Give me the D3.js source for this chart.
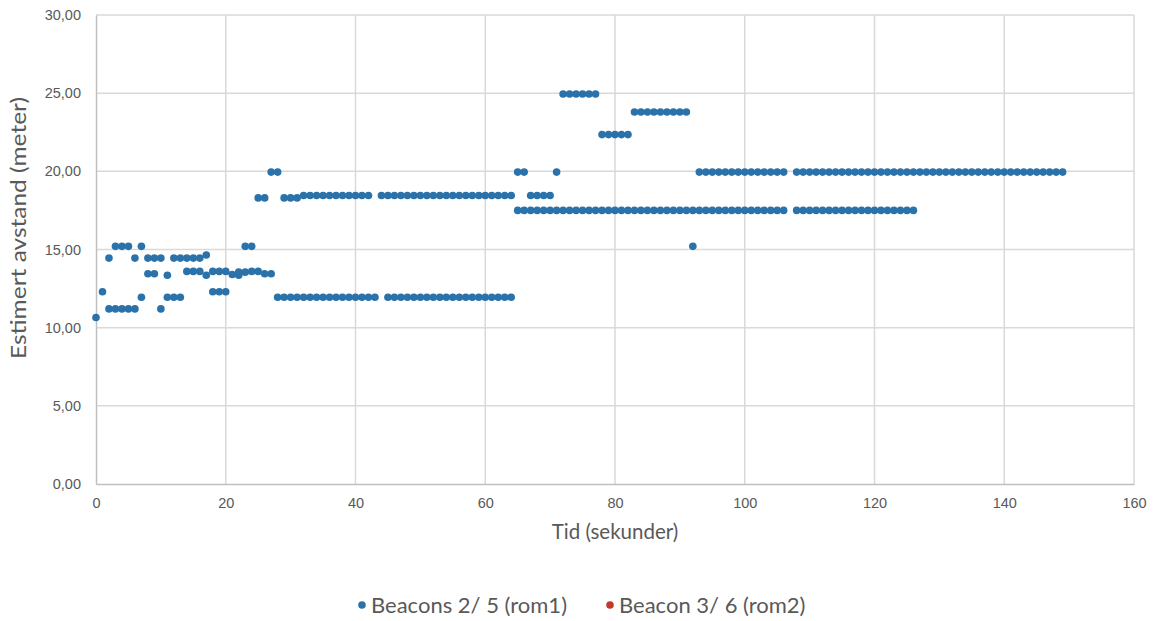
<!DOCTYPE html>
<html>
<head>
<meta charset="utf-8">
<script src="https://cdn.jsdelivr.net/npm/d3@7"></script>
<style>
  body { margin: 0; background: #fff; }
  svg { display: block; }
</style>
</head>
<body>
<svg id="chart" width="1157" height="621"></svg>
<script>
// Tid (s) og estimert avstand (m), lest av figuren
const beacons25 = [
  [0, 10.65], [1, 12.3],
  [2, 14.45], [2, 11.2], [3, 15.2], [3, 11.2], [4, 15.2], [4, 11.2],
  [5, 15.2], [5, 11.2], [6, 14.45], [6, 11.2], [7, 15.2], [7, 11.95],
  [8, 14.45], [8, 13.45], [9, 14.45], [9, 13.45], [10, 14.45], [10, 11.2],
  [11, 13.35], [11, 11.95], [12, 14.45], [12, 11.95], [13, 14.45], [13, 11.95],
  [14, 14.45], [14, 13.6], [15, 14.45], [15, 13.6], [16, 14.45], [16, 13.6],
  [17, 14.65], [17, 13.35], [18, 13.6], [18, 12.3], [19, 13.6], [19, 12.3],
  [20, 13.6], [20, 12.3], [21, 13.4], [22, 13.35], [22, 13.55],
  [23, 15.2], [23, 13.55], [24, 15.2], [24, 13.6], [25, 18.3], [25, 13.6],
  [26, 18.3], [26, 13.45], [27, 19.95], [27, 13.45], [28, 19.95], [28, 11.95],
  [29, 18.3], [29, 11.95], [30, 18.3], [30, 11.95], [31, 18.3], [31, 11.95],
  [32, 18.45], [32, 11.95], [33, 18.45], [33, 11.95], [34, 18.45], [34, 11.95],
  [35, 18.45], [35, 11.95], [36, 18.45], [36, 11.95], [37, 18.45], [37, 11.95],
  [38, 18.45], [38, 11.95], [39, 18.45], [39, 11.95], [40, 18.45], [40, 11.95],
  [41, 18.45], [41, 11.95], [42, 18.45], [42, 11.95], [43, 11.95], [44, 18.45],
  [45, 18.45], [45, 11.95], [46, 18.45], [46, 11.95], [47, 18.45], [47, 11.95],
  [48, 18.45], [48, 11.95], [49, 18.45], [49, 11.95], [50, 18.45], [50, 11.95],
  [51, 18.45], [51, 11.95], [52, 18.45], [52, 11.95], [53, 18.45], [53, 11.95],
  [54, 18.45], [54, 11.95], [55, 18.45], [55, 11.95], [56, 18.45], [56, 11.95],
  [57, 18.45], [57, 11.95], [58, 18.45], [58, 11.95], [59, 18.45], [59, 11.95],
  [60, 18.45], [60, 11.95], [61, 18.45], [61, 11.95], [62, 18.45], [62, 11.95],
  [63, 18.45], [63, 11.95], [64, 18.45], [64, 11.95],
  [65, 19.95], [65, 17.5], [66, 19.95], [66, 17.5],
  [67, 18.45], [67, 17.5], [68, 18.45], [68, 17.5], [69, 18.45], [69, 17.5],
  [70, 18.45], [70, 17.5], [71, 19.95], [71, 17.5],
  [72, 24.95], [72, 17.5], [73, 24.95], [73, 17.5], [74, 24.95], [74, 17.5],
  [75, 24.95], [75, 17.5], [76, 24.95], [76, 17.5], [77, 24.95], [77, 17.5],
  [78, 22.35], [78, 17.5], [79, 22.35], [79, 17.5], [80, 22.35], [80, 17.5],
  [81, 22.35], [81, 17.5], [82, 22.35], [82, 17.5],
  [83, 23.8], [83, 17.5], [84, 23.8], [84, 17.5], [85, 23.8], [85, 17.5],
  [86, 23.8], [86, 17.5], [87, 23.8], [87, 17.5], [88, 23.8], [88, 17.5],
  [89, 23.8], [89, 17.5], [90, 23.8], [90, 17.5], [91, 23.8], [91, 17.5],
  [92, 15.2], [92, 17.5],
  [93, 19.95], [93, 17.5], [94, 19.95], [94, 17.5], [95, 19.95], [95, 17.5],
  [96, 19.95], [96, 17.5], [97, 19.95], [97, 17.5], [98, 19.95], [98, 17.5],
  [99, 19.95], [99, 17.5], [100, 19.95], [100, 17.5], [101, 19.95], [101, 17.5],
  [102, 19.95], [102, 17.5], [103, 19.95], [103, 17.5], [104, 19.95], [104, 17.5],
  [105, 19.95], [105, 17.5], [106, 19.95], [106, 17.5],
  [108, 19.95], [108, 17.5], [109, 19.95], [109, 17.5], [110, 19.95], [110, 17.5],
  [111, 19.95], [111, 17.5], [112, 19.95], [112, 17.5], [113, 19.95], [113, 17.5],
  [114, 19.95], [114, 17.5], [115, 19.95], [115, 17.5], [116, 19.95], [116, 17.5],
  [117, 19.95], [117, 17.5], [118, 19.95], [118, 17.5], [119, 19.95], [119, 17.5],
  [120, 19.95], [120, 17.5], [121, 19.95], [121, 17.5], [122, 19.95], [122, 17.5],
  [123, 19.95], [123, 17.5], [124, 19.95], [124, 17.5], [125, 19.95], [125, 17.5],
  [126, 19.95], [126, 17.5],
  [127, 19.95], [128, 19.95], [129, 19.95], [130, 19.95], [131, 19.95],
  [132, 19.95], [133, 19.95], [134, 19.95], [135, 19.95], [136, 19.95],
  [137, 19.95], [138, 19.95], [139, 19.95], [140, 19.95], [141, 19.95],
  [142, 19.95], [143, 19.95], [144, 19.95], [145, 19.95], [146, 19.95],
  [147, 19.95], [148, 19.95], [149, 19.95]
];
// ingen synlige punkter for andre serie
const beacons36 = [];

const xTicks = [0, 20, 40, 60, 80, 100, 120, 140, 160];
const yTicks = [0, 5, 10, 15, 20, 25, 30];
const seriesNames = ["Beacons 2/ 5 (rom1)", "Beacon 3/ 6 (rom2)"];
const seriesColors = ["#2a72a9", "#c0392b"];

const svg = d3.select("#chart");
const margin = { left: 96, right: 23, top: 15, bottom: 137 };
const W = +svg.attr("width"), H = +svg.attr("height");

const x = d3.scaleLinear().domain([0, 160]).range([margin.left, W - margin.right]);
const y = d3.scaleLinear().domain([0, 30]).range([H - margin.bottom, margin.top]);

const fmt = d => d3.format(".2f")(d).replace(".", ",");

// rutenett
svg.append("g")
  .selectAll("line")
  .data(yTicks.filter(d => d > 0))
  .join("line")
  .attr("x1", x(0)).attr("x2", x(160))
  .attr("y1", d => y(d)).attr("y2", d => y(d))
  .attr("stroke", "#d9d9d9").attr("stroke-width", 1.5);

svg.append("g")
  .selectAll("line")
  .data(xTicks.filter(d => d > 0))
  .join("line")
  .attr("x1", d => x(d)).attr("x2", d => x(d))
  .attr("y1", y(0)).attr("y2", y(30))
  .attr("stroke", "#d9d9d9").attr("stroke-width", 1.5);

// akser
const xAxis = svg.append("g")
  .attr("transform", `translate(0,${y(0)})`)
  .call(d3.axisBottom(x).tickValues(xTicks).tickSize(0).tickPadding(14));
const yAxis = svg.append("g")
  .attr("transform", `translate(${x(0)},0)`)
  .call(d3.axisLeft(y).tickValues(yTicks).tickFormat(fmt).tickSize(0).tickPadding(15));

[xAxis, yAxis].forEach(a => {
  a.select(".domain").attr("stroke", "#bfbfbf").attr("stroke-width", 1.5);
  a.selectAll("text")
    .attr("fill", "#595959")
    .style("font-family", "'Liberation Sans', Arial, sans-serif")
    .style("font-size", "14.5px");
});

// punkter
svg.append("g")
  .selectAll("circle")
  .data(beacons25)
  .join("circle")
  .attr("cx", d => x(d[0]))
  .attr("cy", d => y(d[1]))
  .attr("r", 3.8)
  .attr("fill", seriesColors[0]);

svg.append("g")
  .selectAll("circle")
  .data(beacons36)
  .join("circle")
  .attr("cx", d => x(d[0]))
  .attr("cy", d => y(d[1]))
  .attr("r", 3.8)
  .attr("fill", seriesColors[1]);

// aksetitler
const titleFont = "Lato, 'Open Sans', sans-serif";
svg.append("text")
  .attr("x", (x(0) + x(160)) / 2)
  .attr("y", 539)
  .attr("text-anchor", "middle")
  .attr("fill", "#595959")
  .style("font-family", titleFont)
  .style("font-size", "20.5px")
  .text("Tid (sekunder)");

svg.append("text")
  .attr("transform", "translate(26,228) rotate(-90)")
  .attr("text-anchor", "middle")
  .attr("fill", "#595959")
  .attr("textLength", 262)
  .attr("lengthAdjust", "spacingAndGlyphs")
  .style("font-family", titleFont)
  .style("font-size", "21px")
  .text("Estimert avstand (meter)");

// forklaring
const legendX = [358, 606];
const legend = svg.append("g")
  .selectAll("g")
  .data(seriesNames)
  .join("g")
  .attr("transform", (d, i) => `translate(${legendX[i]},605)`);

legend.append("circle")
  .attr("cx", 4).attr("cy", 0).attr("r", 3.8)
  .attr("fill", (d, i) => seriesColors[i]);

legend.append("text")
  .attr("x", 13).attr("y", 8)
  .attr("fill", "#595959")
  .style("font-family", titleFont)
  .style("font-size", "22px")
  .text(d => d);
</script>
</body>
</html>
